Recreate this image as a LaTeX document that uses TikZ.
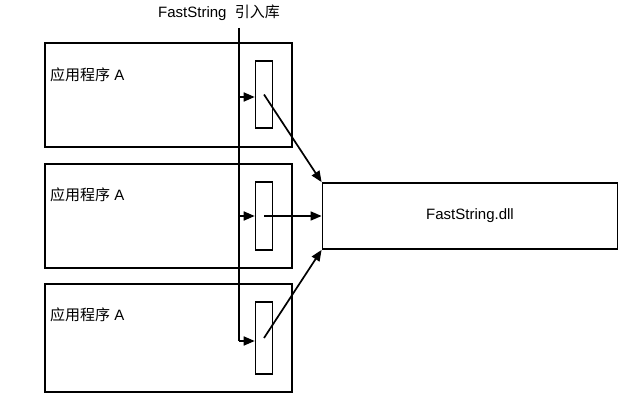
\documentclass[tikz,border=0pt]{standalone}
\usepackage{fontspec}
\setmainfont{Liberation Sans}
\newfontfamily\cjk{Noto Sans CJK SC}
\usetikzlibrary{arrows.meta, positioning}
\tikzset{
  app/box/.style={rectangle, draw, line width=1.8pt, minimum width=247pt},
  app/lbl/.style={anchor=west, inner sep=0pt, font=\fontsize{15}{18}\selectfont},
  lib/stub/.style={rectangle, draw, line width=1.6pt, minimum width=17pt},
  lib/dll/.style={rectangle, draw, line width=1.8pt, minimum width=295pt,
    minimum height=66pt, font=\fontsize{15}{18}\selectfont},
  lib/arr/.style={-{Triangle[length=11pt,width=9pt]}, line width=1.7pt}
}
\begin{document}
\begin{tikzpicture}[x=1pt, y=-1pt]
  \useasboundingbox (0,0) rectangle (626,406);
  \node[font=\fontsize{15}{18}\selectfont] (title) at (219,13) {FastString\ \ {\cjk 引入库}};

  \node[app/box, minimum height=104pt] (b1) at (168.5,95) {};
  \node[app/box, minimum height=104pt] (b2) at (168.5,216) {};
  \node[app/box, minimum height=108pt] (b3) at (168.5,338) {};
  \node[app/lbl] (l1) at (50,75) {{\cjk 应用程序} A};
  \node[app/lbl] (l2) at (50,195) {{\cjk 应用程序} A};
  \node[app/lbl] (l3) at (50,315) {{\cjk 应用程序} A};

  \node[lib/stub, minimum height=67pt] (s1) at (264,94.5) {};
  \node[lib/stub, minimum height=68pt] (s2) at (264,216) {};
  \node[lib/stub, minimum height=72pt] (s3) at (264,338) {};
  \node[lib/dll] (dll) at (470,216) {FastString.dll};

  % import line
  \coordinate (top) at (239,28);
  \coordinate (t1) at (239,97);
  \coordinate (t2) at (239,216);
  \coordinate (t3) at (239,341);
  \draw[line width=1.5pt] (top) -- (t3);
  \draw[lib/arr] (t1) -- (t1 -| s1.west);
  \draw[lib/arr] (t2) -- (t2 -| s2.west);
  \draw[lib/arr] (t3) -- (t3 -| s3.west);

  \draw[lib/arr] (s1.center) -- (dll.north west);
  \draw[lib/arr] (s2.center) -- (dll.west);
  \draw[lib/arr] (s3.center) -- (dll.south west);
\end{tikzpicture}
\end{document}
